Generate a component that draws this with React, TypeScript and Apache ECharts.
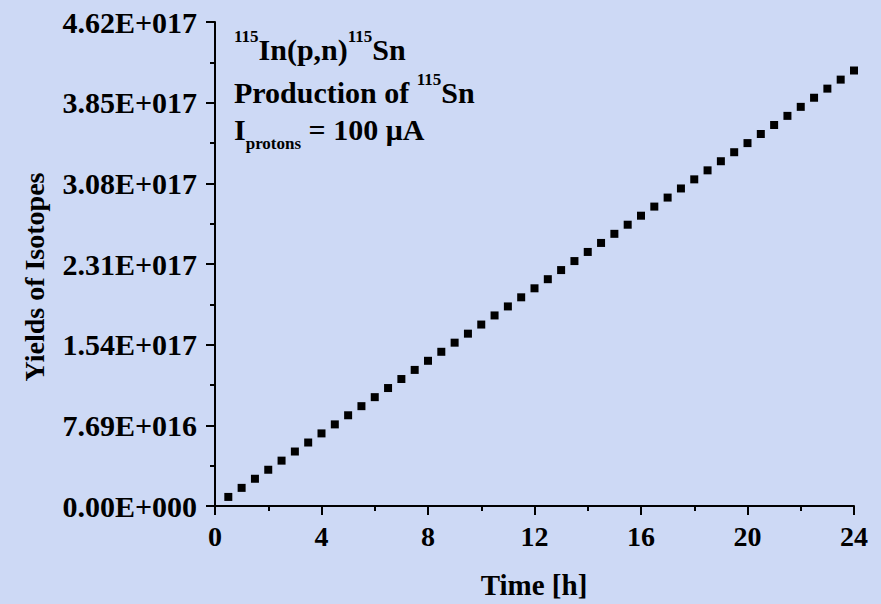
import React, { useEffect, useRef } from "react";
import * as echarts from "echarts";

const times = [
  0.5, 1, 1.5, 2, 2.5, 3, 3.5, 4, 4.5, 5, 5.5, 6, 6.5, 7, 7.5, 8, 8.5, 9, 9.5, 10,
  10.5, 11, 11.5, 12, 12.5, 13, 13.5, 14, 14.5, 15, 15.5, 16, 16.5, 17, 17.5, 18,
  18.5, 19, 19.5, 20, 20.5, 21, 21.5, 22, 22.5, 23, 23.5, 24,
];

const yields = [
  8.66e15, 1.73e16, 2.6e16, 3.46e16, 4.33e16, 5.2e16, 6.06e16, 6.93e16, 7.79e16,
  8.66e16, 9.53e16, 1.039e17, 1.126e17, 1.212e17, 1.299e17, 1.386e17, 1.472e17,
  1.559e17, 1.645e17, 1.732e17, 1.819e17, 1.905e17, 1.992e17, 2.078e17, 2.165e17,
  2.252e17, 2.338e17, 2.425e17, 2.511e17, 2.598e17, 2.685e17, 2.771e17, 2.858e17,
  2.944e17, 3.031e17, 3.118e17, 3.204e17, 3.291e17, 3.377e17, 3.464e17, 3.551e17,
  3.637e17, 3.724e17, 3.81e17, 3.897e17, 3.984e17, 4.07e17, 4.157e17,
];

const yTickLabels = [
  "0.00E+000",
  "7.69E+016",
  "1.54E+017",
  "2.31E+017",
  "3.08E+017",
  "3.85E+017",
  "4.62E+017",
];

const xTitle = "Time [h]";
const yTitle = "Yields of Isotopes";

const FONT = '"Liberation Serif", "Times New Roman", serif';

export default function App() {
  const ref = useRef<HTMLDivElement>(null);

  useEffect(() => {
    if (!ref.current) return;
    const chart = echarts.init(ref.current, null, { renderer: "svg" });
    const yStep = 7.7e16;
    const axisCommon = {
      axisLine: { show: true, lineStyle: { color: "#000", width: 2 } },
      axisTick: { show: true, inside: false, length: 9, lineStyle: { color: "#000", width: 2 } },
      minorTick: { show: true, splitNumber: 2, length: 5, lineStyle: { color: "#000", width: 2 } },
      splitLine: { show: false },
      minorSplitLine: { show: false },
    };
    const main = { fontSize: 30, fontWeight: "bold", fontFamily: FONT, color: "#000" };
    const sup = { fontSize: 17, fontWeight: "bold", fontFamily: FONT, color: "#000" };
    chart.setOption({
      animation: false,
      backgroundColor: "#cdd9f5",
      grid: { left: 215, right: 27, top: 22, bottom: 98, containLabel: false },
      xAxis: {
        type: "value",
        min: 0,
        max: 24,
        interval: 4,
        ...axisCommon,
        axisLabel: {
          fontSize: 28,
          fontWeight: "bold",
          fontFamily: FONT,
          color: "#000",
          margin: 16,
        },
      },
      yAxis: {
        type: "value",
        min: 0,
        max: yStep * 6,
        interval: yStep,
        ...axisCommon,
        axisLabel: {
          fontSize: 30,
          fontWeight: "bold",
          fontFamily: FONT,
          color: "#000",
          margin: 18,
          formatter: (v: number) => yTickLabels[Math.round(v / yStep)] ?? "",
        },
      },
      series: [
        {
          type: "scatter",
          symbol: "rect",
          symbolSize: 8,
          itemStyle: { color: "#000", opacity: 1 },
          data: times.map((t, i) => [t, yields[i]]),
        },
      ],
      graphic: [
        {
          type: "text",
          x: 534,
          y: 585,
          style: {
            text: xTitle,
            align: "center",
            verticalAlign: "middle",
            ...main,
            fontSize: 29,
          },
        },
        {
          type: "text",
          x: 34,
          y: 277,
          rotation: Math.PI / 2,
          style: {
            text: yTitle,
            align: "center",
            verticalAlign: "middle",
            ...main,
            fontSize: 28,
          },
        },
        {
          type: "text",
          x: 234,
          y: 31.7,
          style: {
            text: "{sup|115}{m|In(p,n)}{sup|115}{m|Sn}",
            verticalAlign: "top",
            rich: {
              sup: { ...sup, lineHeight: 10, height: 10, verticalAlign: "top" },
              m: { ...main, lineHeight: 36, height: 36, verticalAlign: "top" },
            },
          },
        },
        {
          type: "text",
          x: 234,
          y: 74.7,
          style: {
            text: "{m|Production of }{sup|115}{m|Sn}",
            verticalAlign: "top",
            rich: {
              sup: { ...sup, lineHeight: 10, height: 10, verticalAlign: "top" },
              m: { ...main, lineHeight: 36, height: 36, verticalAlign: "top" },
            },
          },
        },
        {
          type: "text",
          x: 234,
          y: 119.6,
          style: {
            text: "{m|I}{sub|protons}{m| = 100 μA}",
            verticalAlign: "top",
            rich: {
              sub: { ...sup, lineHeight: 48, height: 48, verticalAlign: "top" },
              m: { ...main, lineHeight: 20, height: 20, verticalAlign: "top" },
            },
          },
        },
      ],
    });
    return () => chart.dispose();
  }, []);

  return (
    <div
      ref={ref}
      style={{ position: "absolute", left: 0, top: 0, width: 881, height: 604 }}
    />
  );
}
